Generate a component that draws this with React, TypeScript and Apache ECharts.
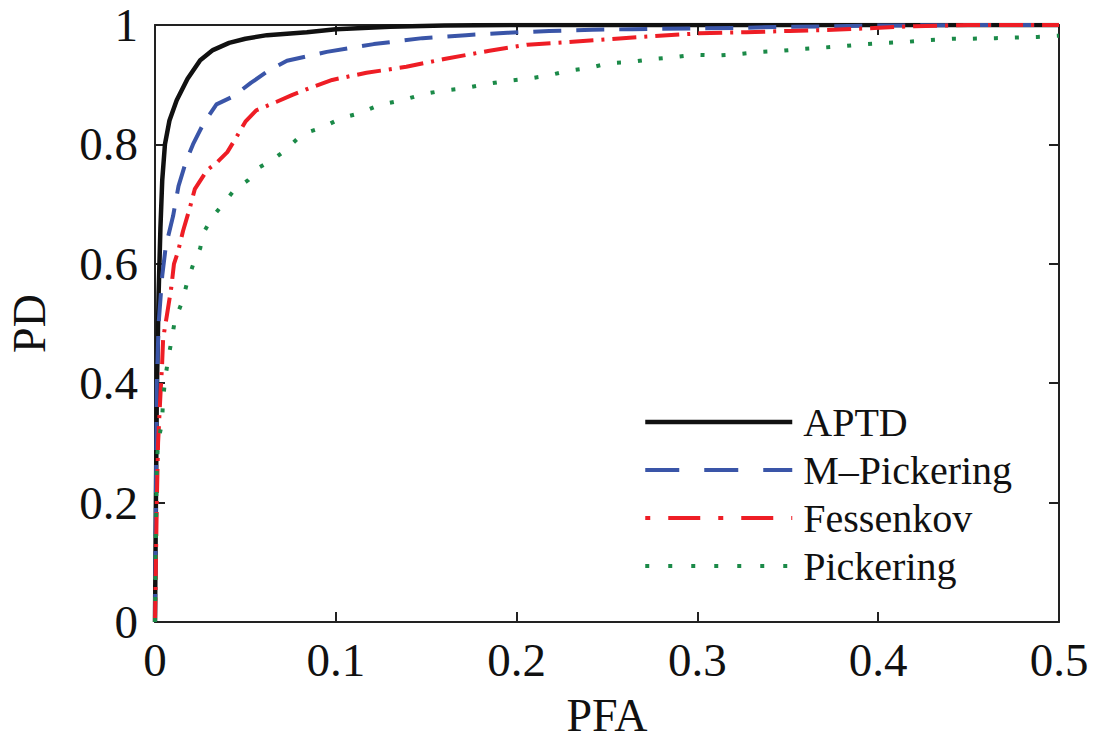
import React, { useEffect, useRef } from "react";
import * as echarts from "echarts";

const xTicks = [0, 0.1, 0.2, 0.3, 0.4, 0.5];
const yTicks = [0, 0.2, 0.4, 0.6, 0.8, 1];

const seriesNames = ["APTD", "M\u2013Pickering", "Fessenkov", "Pickering"];

const aptd: number[][] = [
  [0, 0], [0.0005, 0.2], [0.001, 0.38], [0.002, 0.55], [0.003, 0.66], [0.004, 0.74],
  [0.0055, 0.8], [0.008, 0.84], [0.012, 0.874], [0.018, 0.91], [0.025, 0.941],
  [0.032, 0.958], [0.041, 0.97], [0.05, 0.977], [0.062, 0.983], [0.084, 0.988],
  [0.1, 0.993], [0.13, 0.997], [0.16, 0.999], [0.2, 1], [0.5, 1],
];

const mPickering: number[][] = [
  [0, 0], [0.0005, 0.2], [0.001, 0.4], [0.002, 0.5], [0.004, 0.58], [0.006, 0.63],
  [0.01, 0.68], [0.013, 0.73], [0.017, 0.77], [0.021, 0.8], [0.027, 0.836],
  [0.034, 0.867], [0.043, 0.88], [0.053, 0.903], [0.063, 0.924], [0.073, 0.94],
  [0.095, 0.955], [0.121, 0.968], [0.148, 0.978], [0.172, 0.983], [0.195, 0.987],
  [0.218, 0.99], [0.242, 0.992], [0.264, 0.993], [0.32, 0.995], [0.35, 0.997],
  [0.4, 0.999], [0.45, 1], [0.5, 1],
];

const fessenkov: number[][] = [
  [0, 0], [0.0005, 0.1], [0.001, 0.2], [0.0017, 0.3], [0.003, 0.38], [0.0039, 0.43],
  [0.0045, 0.475], [0.0066, 0.514], [0.009, 0.56], [0.0105, 0.6], [0.0127, 0.62],
  [0.0155, 0.655], [0.0194, 0.695], [0.022, 0.725], [0.0288, 0.757], [0.034, 0.769],
  [0.04, 0.787], [0.045, 0.812], [0.05, 0.838], [0.056, 0.857], [0.067, 0.871],
  [0.076, 0.883], [0.087, 0.896], [0.098, 0.908], [0.117, 0.92], [0.139, 0.93],
  [0.16, 0.943], [0.185, 0.957], [0.206, 0.967], [0.231, 0.972], [0.255, 0.977],
  [0.279, 0.982], [0.301, 0.986], [0.327, 0.988], [0.351, 0.99], [0.375, 0.992],
  [0.398, 0.995], [0.42, 0.998], [0.45, 1], [0.5, 1],
];

const pickering: number[][] = [
  [0, 0], [0.0003, 0.1], [0.0007, 0.2], [0.001, 0.263], [0.0017, 0.3], [0.0039, 0.335],
  [0.0044, 0.368], [0.0055, 0.405], [0.0072, 0.439], [0.0094, 0.476], [0.011, 0.506],
  [0.015, 0.536], [0.0177, 0.568], [0.021, 0.598], [0.025, 0.626], [0.0266, 0.651],
  [0.0315, 0.677], [0.037, 0.698], [0.044, 0.724], [0.0515, 0.74], [0.058, 0.762],
  [0.065, 0.774], [0.072, 0.79], [0.079, 0.81], [0.084, 0.82], [0.093, 0.829],
  [0.103, 0.844], [0.113, 0.852], [0.124, 0.866], [0.137, 0.874], [0.148, 0.884],
  [0.159, 0.89], [0.171, 0.894], [0.183, 0.901], [0.194, 0.906], [0.206, 0.91],
  [0.217, 0.915], [0.228, 0.923], [0.24, 0.928], [0.251, 0.936], [0.263, 0.938],
  [0.275, 0.943], [0.287, 0.946], [0.298, 0.95], [0.311, 0.949], [0.322, 0.951],
  [0.335, 0.955], [0.347, 0.957], [0.358, 0.96], [0.369, 0.962], [0.382, 0.965],
  [0.394, 0.968], [0.405, 0.97], [0.417, 0.972], [0.429, 0.975], [0.441, 0.977],
  [0.452, 0.977], [0.465, 0.978], [0.477, 0.979], [0.488, 0.98], [0.5, 0.982],
];

const FONT = "'Liberation Serif', 'Times New Roman', serif";
const AXIS_COLOR = "#222";

export default function App() {
  const ref = useRef<HTMLDivElement>(null);

  useEffect(() => {
    if (!ref.current) return;
    const chart = echarts.init(ref.current, undefined, { renderer: "svg" });

    const styles = [
      { color: "#111111", width: 4.5, type: "solid" as any },
      { color: "#3a55a8", width: 4, type: [28, 15] },
      { color: "#ee1d25", width: 4, type: [24, 8, 3, 8] },
      { color: "#1b8a48", width: 4, type: [4, 17] },
    ];
    const legendStyles = [
      { color: "#111111", width: 4.5, type: "solid" as any },
      { color: "#3a55a8", width: 4, type: [34, 25] },
      { color: "#ee1d25", width: 4, type: [5, 18, 32, 18] },
      { color: "#1b8a48", width: 4, type: [4, 19] },
    ];
    const datasets = [aptd, mPickering, fessenkov, pickering];

    const axisCommon = {
      type: "value" as const,
      axisLine: { show: true, onZero: false, lineStyle: { color: AXIS_COLOR, width: 2 } },
      axisTick: { show: true, inside: true, length: 10, lineStyle: { color: AXIS_COLOR, width: 2 } },
      splitLine: { show: false },
    };

    chart.setOption({
      animation: false,
      backgroundColor: "#ffffff",
      grid: {
        left: 155,
        right: 34,
        top: 25,
        bottom: 118,
        containLabel: false,
        outerBoundsMode: "none",
      },
      xAxis: [
        {
          ...axisCommon,
          position: "bottom",
          min: xTicks[0],
          max: xTicks[xTicks.length - 1],
          interval: 0.1,
          name: "PFA",
          nameLocation: "middle",
          nameGap: 70,
          nameTextStyle: { fontFamily: FONT, fontSize: 46, color: "#111" },
          axisLabel: {
            margin: 14,
            fontFamily: FONT,
            fontSize: 47,
            color: "#111",
            formatter: (v: number) => String(Math.round(v * 10) / 10),
          },
        },
        {
          ...axisCommon,
          position: "top",
          min: xTicks[0],
          max: xTicks[xTicks.length - 1],
          interval: 0.1,
          axisLabel: { show: false },
        },
      ],
      yAxis: [
        {
          ...axisCommon,
          position: "left",
          min: yTicks[0],
          max: yTicks[yTicks.length - 1],
          interval: 0.2,
          name: "PD",
          nameLocation: "middle",
          nameGap: 103,
          nameTextStyle: { fontFamily: FONT, fontSize: 46, color: "#111" },
          axisLabel: {
            margin: 17,
            fontFamily: FONT,
            fontSize: 47,
            color: "#111",
            formatter: (v: number) => String(Math.round(v * 10) / 10),
          },
        },
        {
          ...axisCommon,
          position: "right",
          min: yTicks[0],
          max: yTicks[yTicks.length - 1],
          interval: 0.2,
          axisLabel: { show: false },
        },
      ],
      legend: {
        show: true,
        orient: "vertical",
        left: 643,
        top: 402,
        itemWidth: 147,
        itemHeight: 14,
        itemGap: 8,
        padding: 0,
        itemStyle: { color: "rgba(0,0,0,0)", borderWidth: 0, opacity: 0 },
        textStyle: {
          fontFamily: FONT,
          fontSize: 40,
          color: "#111",
          padding: [0, 0, 0, 6],
        },
        data: seriesNames.map((n, i) => ({
          name: n,
          itemStyle: { color: "rgba(0,0,0,0)", borderWidth: 0, opacity: 0 },
          lineStyle: { ...legendStyles[i], cap: "butt", opacity: 1 },
        })),
      },
      series: datasets.map((d, i) => ({
        name: seriesNames[i],
        type: "line",
        data: d,
        symbol: "none",
        showSymbol: false,
        xAxisIndex: 0,
        yAxisIndex: 0,
        lineStyle: { ...styles[i], cap: "butt", join: "round" },
        itemStyle: { color: styles[i].color },
        z: 2 + i,
      })),
    });

    return () => chart.dispose();
  }, []);

  return (
    <div
      ref={ref}
      style={{ position: "absolute", left: 0, top: 0, width: 1093, height: 740 }}
    />
  );
}
